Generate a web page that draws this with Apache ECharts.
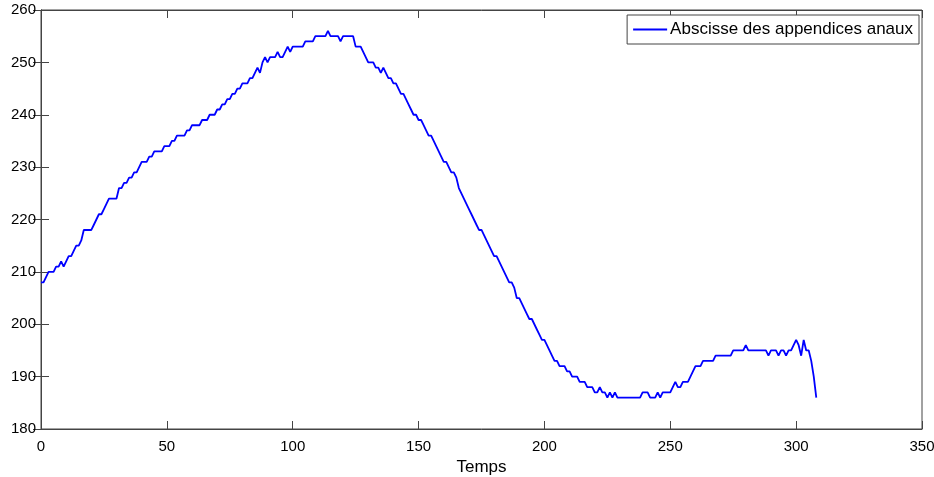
<!DOCTYPE html>
<html>
<head>
<meta charset="utf-8">
<script src="https://cdn.jsdelivr.net/npm/echarts@6/dist/echarts.min.js"></script>
<style>
  html, body { margin: 0; padding: 0; background: #fff; }
  #chart { width: 934px; height: 477px; }
</style>
</head>
<body>
<div id="chart"></div>
<script>
// Abscissa of the anal appendages, sampled once per time step (t = 0 .. 308)
const seriesName = 'Abscisse des appendices anaux';
const xAxisName = 'Temps';
const abscisse = [
  208, 208, 209, 210, 210, 210, 211, 211, 212, 211,
  212, 213, 213, 214, 215, 215, 216, 218, 218, 218,
  218, 219, 220, 221, 221, 222, 223, 224, 224, 224,
  224, 226, 226, 227, 227, 228, 228, 229, 229, 230,
  231, 231, 231, 232, 232, 233, 233, 233, 233, 234,
  234, 234, 235, 235, 236, 236, 236, 236, 237, 237,
  238, 238, 238, 238, 239, 239, 239, 240, 240, 240,
  241, 241, 242, 242, 243, 243, 244, 244, 245, 245,
  246, 246, 246, 247, 247, 248, 249, 248, 250, 251,
  250, 251, 251, 251, 252, 251, 251, 252, 253, 252,
  253, 253, 253, 253, 253, 254, 254, 254, 254, 255,
  255, 255, 255, 255, 256, 255, 255, 255, 255, 254,
  255, 255, 255, 255, 255, 253, 253, 253, 252, 251,
  250, 250, 250, 249, 249, 248, 249, 248, 247, 247,
  246, 246, 245, 244, 244, 243, 242, 241, 240, 240,
  239, 239, 238, 237, 236, 236, 235, 234, 233, 232,
  231, 231, 230, 229, 229, 228, 226, 225, 224, 223,
  222, 221, 220, 219, 218, 218, 217, 216, 215, 214,
  213, 213, 212, 211, 210, 209, 208, 208, 207, 205,
  205, 204, 203, 202, 201, 201, 200, 199, 198, 197,
  197, 196, 195, 194, 193, 193, 192, 192, 192, 191,
  191, 190, 190, 190, 189, 189, 189, 188, 188, 188,
  187, 187, 188, 187, 187, 186, 187, 186, 187, 186,
  186, 186, 186, 186, 186, 186, 186, 186, 186, 187,
  187, 187, 186, 186, 186, 187, 186, 187, 187, 187,
  187, 188, 189, 188, 188, 189, 189, 189, 190, 191,
  192, 192, 192, 193, 193, 193, 193, 193, 194, 194,
  194, 194, 194, 194, 194, 195, 195, 195, 195, 195,
  196, 195, 195, 195, 195, 195, 195, 195, 195, 194,
  195, 195, 195, 194, 195, 195, 194, 195, 195, 196,
  197, 196, 194, 197, 195, 195, 193, 190, 186
];
const xTicks = { min: 0, max: 350, interval: 50 };
const yTicks = { min: 180, max: 260, interval: 10 };

const points = abscisse.map((v, i) => [i, v]);

const fontFamily = 'Liberation Sans, Arial, sans-serif';
const tickFont = { fontFamily, fontSize: 15, color: '#000' };
const textFont = { fontFamily, fontSize: 17, color: '#000' };
const axisLineStyle = { color: '#444', width: 1 };
const tickStyle = { show: true, inside: true, length: 8, lineStyle: { color: '#444', width: 1 } };

const chart = echarts.init(document.getElementById('chart'), null, { renderer: 'canvas' });
chart.setOption({
  animation: false,
  backgroundColor: '#fff',
  grid: {
    left: 41, right: 12, top: 10, bottom: 48,
    containLabel: false,
    outerBoundsMode: 'none',
    show: true, borderColor: '#444', borderWidth: 1, backgroundColor: '#fff'
  },
  legend: {
    data: [seriesName],
    right: 15, top: 15,
    orient: 'horizontal',
    icon: 'rect', itemWidth: 34, itemHeight: 2, itemGap: 4,
    padding: [6, 6, 6, 6],
    borderColor: '#444', borderWidth: 1, backgroundColor: '#fff',
    textStyle: Object.assign({}, textFont, { padding: [0, 0, 0, -2] })
  },
  xAxis: [
    {
      type: 'value', position: 'bottom',
      min: xTicks.min, max: xTicks.max, interval: xTicks.interval,
      name: xAxisName, nameLocation: 'middle', nameGap: 30,
      nameTextStyle: textFont,
      axisLine: { show: true, lineStyle: axisLineStyle },
      axisTick: tickStyle,
      axisLabel: Object.assign({ margin: 10 }, tickFont),
      splitLine: { show: false }
    },
    {
      type: 'value', position: 'top',
      min: xTicks.min, max: xTicks.max, interval: xTicks.interval,
      axisLine: { show: true, lineStyle: axisLineStyle },
      axisTick: tickStyle,
      axisLabel: { show: false },
      splitLine: { show: false }
    }
  ],
  yAxis: [
    {
      type: 'value', position: 'left',
      min: yTicks.min, max: yTicks.max, interval: yTicks.interval,
      axisLine: { show: true, lineStyle: axisLineStyle },
      axisTick: tickStyle,
      axisLabel: Object.assign({ margin: 5 }, tickFont),
      splitLine: { show: false }
    },
    {
      type: 'value', position: 'right',
      min: yTicks.min, max: yTicks.max, interval: yTicks.interval,
      axisLine: { show: true, lineStyle: axisLineStyle },
      axisTick: tickStyle,
      axisLabel: { show: false },
      splitLine: { show: false }
    }
  ],
  series: [
    {
      name: seriesName,
      type: 'line',
      xAxisIndex: 0, yAxisIndex: 0,
      data: points,
      showSymbol: false, symbol: 'none',
      lineStyle: { color: '#0000ff', width: 1.8 },
      itemStyle: { color: '#0000ff' }
    }
  ]
});
</script>
</body>
</html>
